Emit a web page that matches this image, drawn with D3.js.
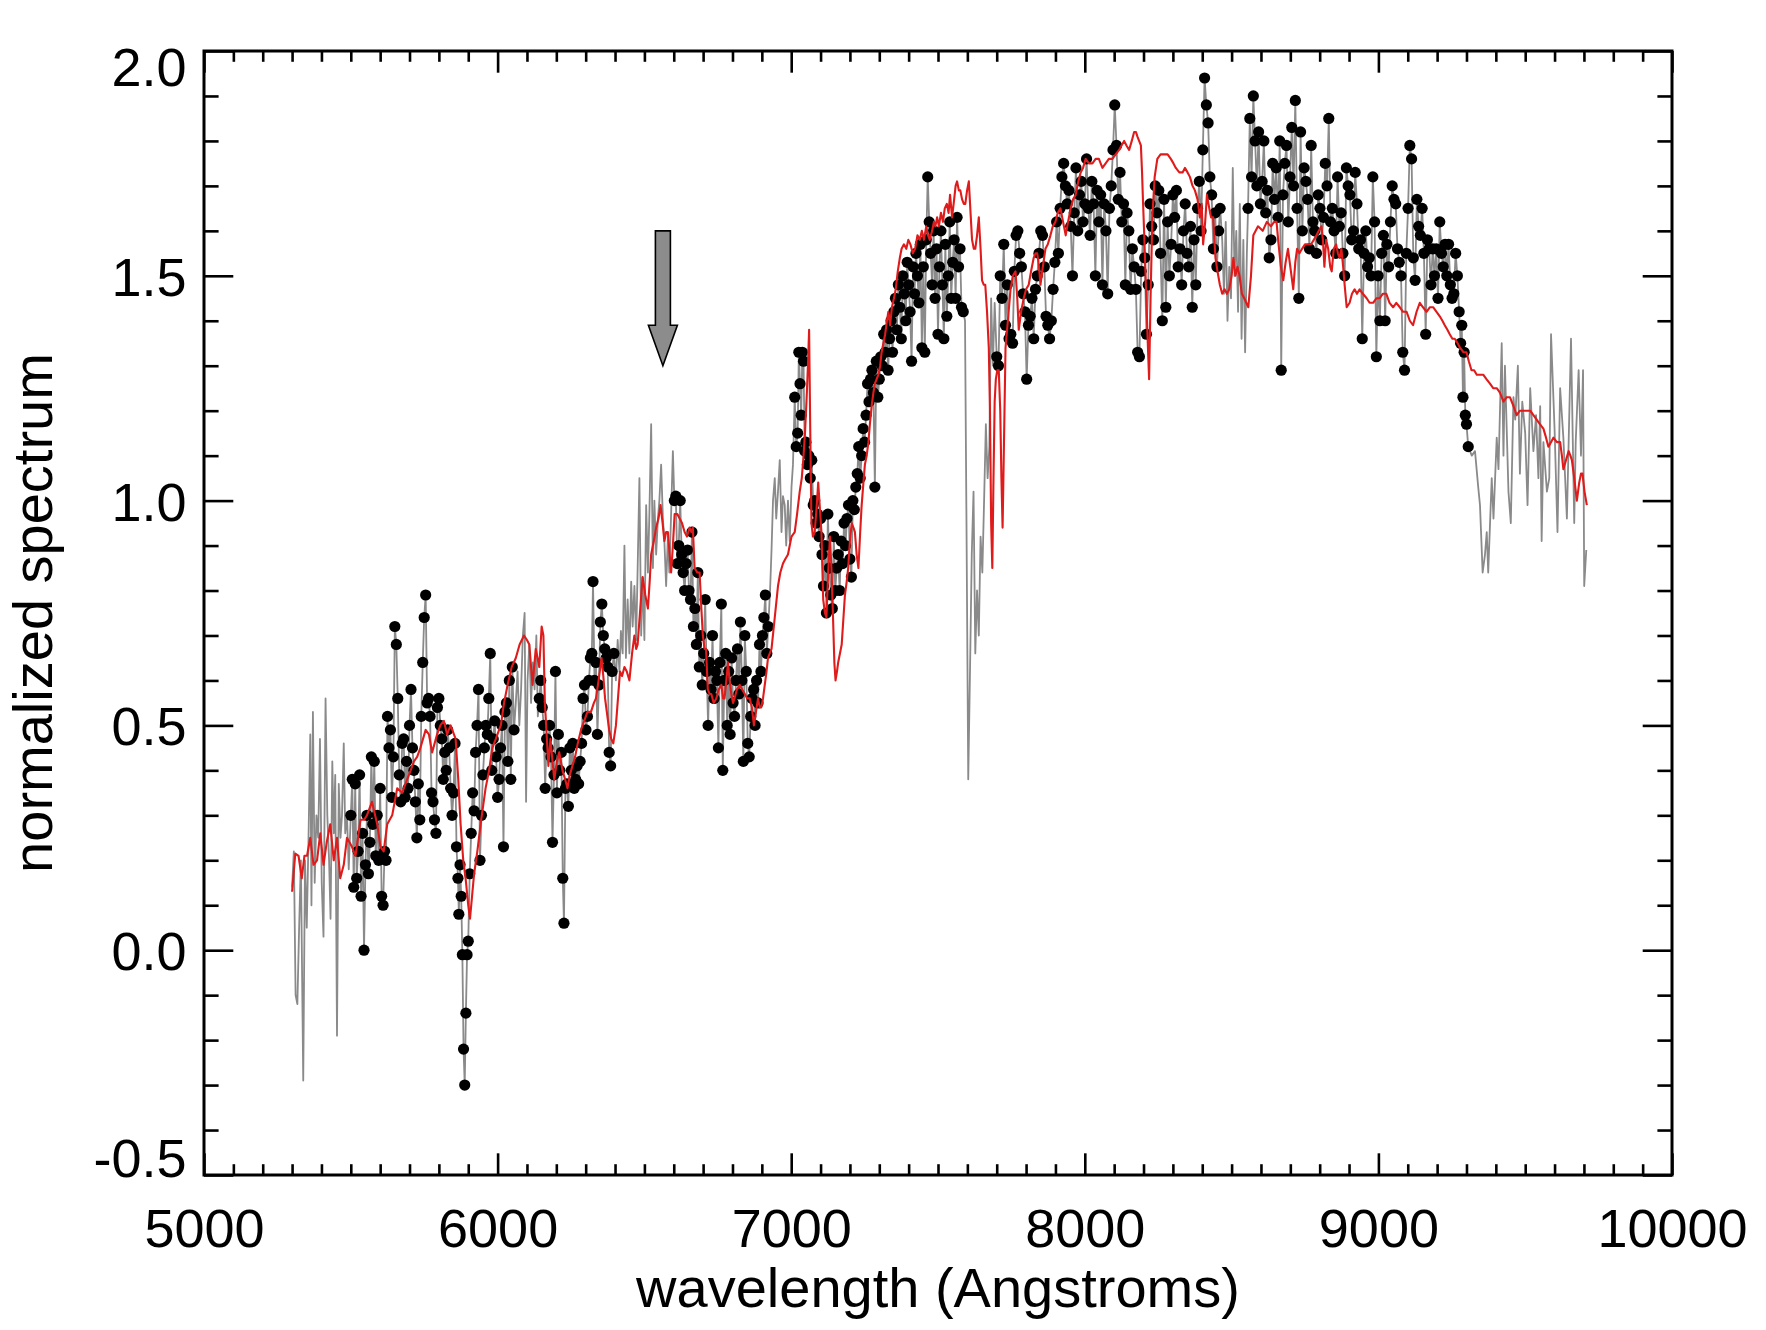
<!DOCTYPE html>
<html><head><meta charset="utf-8">
<script src="https://cdn.jsdelivr.net/npm/d3@7"></script>
<style>body{margin:0;background:#fff}</style>
</head><body>
<svg id="chart" width="1766" height="1330"></svg>
<script>
// observed spectrum: [wavelength (A), normalized flux]
const spectrum = [
[5300,0.14],[5306,0.22],[5312,-0.10],[5318,-0.12],[5324,0.05],[5330,0.20],[5338,-0.29],[5344,0.20],[5350,0.05],[5356,0.25],[5362,0.48],[5366,0.10],[5371,0.53],[5377,0.15],[5383,0.30],[5389,0.25],[5395,0.47],[5401,0.15],[5407,0.03],[5414,0.56],[5420,0.30],[5426,0.20],[5431,0.07],[5437,0.42],[5442,0.26],[5447,0.39],[5453,-0.19],[5459,0.37],[5465,0.25],[5470,0.30],[5476,0.46],[5481,0.26],[5487,0.30],[5493,0.18],
[5500,0.30],[5505,0.38],[5510,0.14],[5515,0.37],[5520,0.16],[5525,0.22],[5530,0.39],[5535,0.12],[5540,0.26],[5545,0.00],[5550,0.19],[5555,0.30],[5560,0.17],[5565,0.24],[5570,0.43],[5575,0.28],[5580,0.42],[5585,0.21],[5590,0.30],[5595,0.20],[5600,0.36],[5605,0.12],[5610,0.10],[5615,0.22],[5620,0.20],[5625,0.52],[5630,0.45],[5635,0.49],[5640,0.34],[5645,0.43],[5650,0.72],[5655,0.68],[5660,0.56],[5665,0.39],[5670,0.33],[5675,0.46],[5680,0.47],[5685,0.34],[5690,0.42],[5695,0.36],[5700,0.50],[5705,0.58],[5710,0.45],[5715,0.40],[5720,0.33],[5725,0.25],[5730,0.37],[5735,0.29],[5740,0.52],[5745,0.64],[5750,0.74],[5755,0.79],[5760,0.55],[5765,0.56],[5770,0.52],[5775,0.35],[5780,0.33],[5785,0.29],[5790,0.26],[5795,0.54],[5800,0.56],[5805,0.50],[5810,0.47],[5815,0.38],[5820,0.44],[5825,0.40],[5830,0.49],[5835,0.45],[5840,0.36],[5845,0.30],[5850,0.35],[5855,0.46],[5860,0.23],[5865,0.16],[5868,0.08],[5872,0.19],[5876,0.12],[5880,-0.01],[5884,-0.22],[5888,-0.30],[5892,-0.14],[5896,-0.01],[5900,0.02],[5905,0.17],[5910,0.26],[5915,0.35],[5920,0.31],[5925,0.44],[5930,0.50],[5935,0.58],[5940,0.20],[5945,0.30],[5950,0.39],[5955,0.45],[5960,0.50],[5965,0.48],[5970,0.56],[5975,0.66],[5980,0.40],[5985,0.47],[5990,0.51],[5995,0.43],[6000,0.34],[6005,0.38],[6010,0.45],[6015,0.50],[6020,0.23],[6025,0.53],[6030,0.55],[6035,0.42],[6040,0.60],[6045,0.38],[6050,0.63],[6056,0.49],
[6062,0.55],[6068,0.62],[6074,0.50],[6080,0.58],[6086,0.70],[6092,0.75],[6097,0.33],[6102,0.60],[6108,0.68],[6114,0.55],[6120,0.64],[6126,0.58],[6132,0.70],[6137,0.52],
[6142,0.56],[6147,0.60],[6152,0.54],[6157,0.50],[6162,0.36],[6167,0.47],[6172,0.45],[6177,0.50],[6182,0.43],[6187,0.24],[6192,0.39],[6197,0.62],[6202,0.35],[6207,0.48],[6212,0.40],[6217,0.44],[6222,0.16],[6226,0.06],[6231,0.36],[6236,0.37],[6241,0.32],[6246,0.45],[6251,0.40],[6256,0.46],[6261,0.36],[6266,0.38],[6271,0.41],[6276,0.37],[6281,0.42],[6286,0.46],[6291,0.56],[6296,0.59],[6301,0.49],[6306,0.52],[6311,0.60],[6316,0.65],[6321,0.66],[6325,0.82],[6330,0.60],[6335,0.64],[6340,0.48],[6345,0.59],[6350,0.73],[6355,0.77],[6360,0.70],[6365,0.67],[6370,0.65],[6375,0.63],[6380,0.44],[6385,0.41],[6390,0.62],[6396,0.66],
[6403,0.60],[6409,0.69],[6415,0.62],[6420,0.71],[6426,0.66],[6432,0.90],[6437,0.65],[6443,0.78],[6449,0.66],[6455,0.82],[6460,0.72],[6466,0.81],[6472,0.69],[6477,0.85],[6483,1.05],[6489,0.70],[6494,0.83],[6500,0.69],[6506,0.99],[6512,0.84],[6517,0.97],[6523,1.17],[6529,0.85],[6534,1.00],[6540,0.88],[6546,0.96],[6551,1.00],[6557,1.08],[6563,0.96],[6568,0.91],[6574,0.81],[6580,0.92],[6585,0.84],[6591,0.97],[6597,1.11],
[6602,1.00],[6607,1.01],[6612,0.86],[6617,0.90],[6622,1.00],[6627,0.88],[6632,0.84],[6637,0.80],[6642,0.86],[6647,0.89],[6652,0.80],[6657,0.78],[6662,0.93],[6667,0.72],[6672,0.76],[6677,0.68],[6682,0.84],[6687,0.63],[6692,0.70],[6697,0.59],[6702,0.66],[6707,0.78],[6712,0.62],[6717,0.50],[6722,0.64],[6727,0.58],[6732,0.70],[6737,0.56],[6742,0.62],[6747,0.60],[6752,0.45],[6757,0.64],[6762,0.77],[6767,0.40],[6772,0.60],[6777,0.66],[6782,0.50],[6787,0.62],[6792,0.48],[6797,0.65],[6802,0.55],[6807,0.52],[6812,0.60],[6817,0.67],[6822,0.57],[6827,0.73],[6832,0.60],[6837,0.42],[6842,0.70],[6847,0.62],[6852,0.46],[6857,0.43],[6862,0.52],[6867,0.56],[6872,0.58],[6877,0.50],[6882,0.60],[6887,0.55],[6892,0.68],[6897,0.62],[6902,0.70],[6907,0.74],[6912,0.79],[6917,0.66],[6922,0.72],
[6928,0.80],[6933,0.89],[6938,1.00],[6944,1.05],[6949,0.96],[6955,1.02],[6961,1.09],[6967,0.93],[6972,1.01],[6978,0.99],[6983,0.90],[6989,1.00],[6995,0.91],[7001,1.03],[7006,1.08],
[7012,1.23],[7017,1.12],[7022,1.15],[7026,1.33],[7030,1.26],[7034,1.19],[7038,1.33],[7042,1.31],[7046,1.11],[7050,1.13],[7055,1.08],[7060,1.10],[7065,1.05],[7070,1.09],[7075,0.99],[7080,1.00],[7085,0.95],[7090,0.97],[7095,0.92],[7100,0.96],[7105,0.88],[7110,0.81],[7115,0.90],[7120,0.75],[7125,0.97],[7130,0.85],[7135,0.79],[7140,0.76],[7145,0.92],[7150,0.80],[7155,0.85],[7160,0.88],[7165,0.80],[7170,0.91],[7175,0.86],[7180,0.95],[7185,0.90],[7190,0.96],[7195,0.99],[7200,0.87],[7205,0.83],[7210,1.00],[7215,0.98],[7220,1.03],[7225,1.06],[7230,1.12],[7235,1.05],[7240,1.10],[7245,1.16],[7250,1.13],[7255,1.19],[7260,1.26],[7265,1.22],[7270,1.27],[7275,1.29],[7280,1.24],[7285,1.03],[7290,1.31],[7295,1.23],[7300,1.27],[7305,1.32],[7310,1.30],[7315,1.37],[7320,1.33],[7325,1.38],[7330,1.29],[7335,1.36],[7340,1.40],[7345,1.33],[7350,1.42],[7355,1.45],[7360,1.38],[7365,1.48],[7370,1.43],[7375,1.36],[7380,1.50],[7385,1.46],[7390,1.40],[7395,1.53],[7400,1.48],[7405,1.42],[7410,1.31],[7415,1.52],[7420,1.46],[7425,1.55],[7430,1.50],[7435,1.44],[7440,1.57],[7445,1.34],[7450,1.52],[7455,1.33],[7460,1.58],[7465,1.72],[7470,1.62],[7475,1.55],[7480,1.48],[7485,1.60],[7490,1.45],[7495,1.56],[7500,1.37],[7505,1.52],[7510,1.60],[7515,1.48],[7520,1.36],[7525,1.57],[7530,1.41],[7535,1.50],[7540,1.62],[7545,1.45],[7550,1.53],[7555,1.58],[7560,1.45],[7565,1.63],[7570,1.52],[7575,1.56],[7580,1.43],[7586,1.42],
[7592,1.40],[7597,0.95],[7603,0.38],[7609,0.62],[7615,0.88],[7621,1.02],[7627,0.66],[7633,0.80],[7639,0.70],[7645,0.92],[7651,0.84],[7657,1.00],[7663,1.17],[7669,1.05],[7675,1.12],[7681,1.45],[7687,1.30],[7693,1.44],
[7700,1.32],[7706,1.30],[7712,1.50],[7718,1.45],[7724,1.57],[7730,1.39],[7736,1.48],[7742,1.36],[7748,1.37],[7754,1.35],[7760,1.51],[7766,1.59],[7772,1.60],[7778,1.55],[7784,1.52],[7790,1.46],[7796,1.42],[7802,1.27],[7808,1.39],[7814,1.41],[7820,1.45],[7826,1.36],[7832,1.47],[7838,1.50],[7844,1.55],[7850,1.60],[7856,1.59],[7862,1.52],[7868,1.41],[7874,1.39],[7880,1.36],[7886,1.40],[7892,1.47],[7898,1.53],[7904,1.62],[7910,1.55],[7916,1.65],[7922,1.72],[7928,1.75],[7934,1.70],[7940,1.66],[7946,1.69],[7952,1.61],[7958,1.50],[7964,1.64],[7970,1.74],[7976,1.60],[7982,1.68],[7988,1.71],[7994,1.62],[8000,1.66],[8006,1.76],[8012,1.65],[8018,1.59],[8024,1.71],[8030,1.66],[8036,1.50],[8042,1.69],[8048,1.62],[8054,1.68],[8060,1.48],[8066,1.66],[8072,1.60],[8078,1.46],[8084,1.65],[8090,1.70],[8096,1.78],[8102,1.88],[8108,1.79],[8114,1.67],[8120,1.73],[8126,1.62],[8132,1.66],[8138,1.48],[8144,1.64],[8150,1.60],[8156,1.47],[8162,1.56],[8168,1.52],[8174,1.47],[8180,1.33],[8186,1.32],[8192,1.51],[8198,1.58],[8204,1.54],[8210,1.37],[8216,1.48],[8222,1.66],[8228,1.61],[8234,1.58],[8240,1.70],[8246,1.64],[8252,1.69],[8258,1.55],[8264,1.40],[8270,1.67],[8276,1.43],[8282,1.62],[8288,1.50],[8294,1.57],[8300,1.68],[8306,1.63],[8312,1.69],[8318,1.52],[8324,1.56],[8330,1.48],[8336,1.60],[8342,1.66],[8348,1.55],[8354,1.52],[8360,1.61],[8366,1.43],[8372,1.58],[8378,1.48],[8384,1.65],[8390,1.71],[8396,1.60],[8402,1.78],[8408,1.94],[8414,1.88],[8420,1.84],[8426,1.72],[8432,1.68],[8438,1.56],[8444,1.64],[8450,1.52],[8456,1.60],[8461,1.65],
[8468,1.58],[8474,1.46],[8480,1.62],[8486,1.40],[8492,1.52],[8498,1.45],[8504,1.74],[8510,1.50],[8516,1.60],[8522,1.42],[8528,1.66],[8534,1.36],[8540,1.58],[8546,1.33],[8552,1.55],
[8556,1.65],[8562,1.85],[8568,1.72],[8574,1.90],[8580,1.80],[8586,1.70],[8592,1.82],[8598,1.66],[8604,1.71],[8610,1.80],[8616,1.64],[8622,1.69],[8628,1.54],[8634,1.58],[8640,1.75],[8646,1.67],[8652,1.74],[8658,1.63],[8664,1.80],[8669,1.29],[8675,1.68],[8681,1.75],[8687,1.79],[8693,1.62],[8699,1.72],[8705,1.83],[8711,1.70],[8717,1.89],[8723,1.65],[8729,1.45],[8735,1.82],[8741,1.60],[8747,1.74],[8753,1.71],[8759,1.67],[8765,1.56],[8771,1.79],[8777,1.62],[8783,1.60],[8789,1.55],[8795,1.68],[8801,1.65],[8807,1.58],[8813,1.63],[8819,1.75],[8825,1.70],[8831,1.85],[8837,1.62],[8843,1.65],[8849,1.60],[8855,1.55],[8861,1.72],[8867,1.61],[8873,1.64],[8879,1.55],[8885,1.50],[8891,1.74],[8897,1.70],[8903,1.68],[8909,1.58],[8915,1.60],[8921,1.73],[8927,1.66],[8933,1.56],[8939,1.58],[8945,1.36],[8951,1.55],[8957,1.60],[8963,1.52],[8969,1.54],[8975,1.50],[8981,1.72],[8987,1.62],[8993,1.32],[8999,1.50],[9005,1.40],[9011,1.55],[9017,1.59],[9023,1.40],[9029,1.57],[9035,1.52],[9041,1.62],[9047,1.70],[9053,1.67],[9059,1.66],[9065,1.56],[9071,1.53],[9077,1.50],[9083,1.33],[9089,1.29],[9095,1.55],[9101,1.65],[9107,1.79],[9113,1.76],[9119,1.54],[9125,1.49],[9131,1.67],[9137,1.61],[9143,1.59],[9149,1.65],[9155,1.55],[9161,1.37],[9167,1.58],[9173,1.56],[9179,1.48],[9185,1.56],[9191,1.50],[9197,1.56],[9203,1.45],[9209,1.62],[9215,1.55],[9221,1.52],[9227,1.57],[9233,1.50],[9239,1.57],[9245,1.48],[9251,1.45],[9257,1.46],[9263,1.55],[9269,1.50],[9275,1.42],[9280,1.35],[9284,1.39],[9288,1.23],[9292,1.33],[9296,1.19],[9300,1.17],[9306,1.12],
[9318,1.10],[9329,1.11],[9340,1.03],[9346,0.99],[9355,0.84],[9363,0.88],[9369,0.93],[9374,0.84],[9386,1.05],[9392,0.96],[9403,1.14],[9409,1.07],[9420,1.35],[9426,1.10],[9431,1.30],[9443,1.02],[9451,0.95],[9460,1.23],[9466,1.18],[9475,1.30],[9482,1.06],[9490,1.22],[9500,1.15],[9508,0.99],[9517,1.25],[9528,1.11],[9537,1.19],[9545,1.05],[9551,1.21],[9556,0.91],[9562,1.13],[9574,1.02],[9582,1.05],[9588,1.37],[9600,1.16],[9610,0.93],[9619,1.25],[9630,1.14],[9642,0.96],[9648,1.13],[9656,1.36],[9667,0.95],[9672,1.13],[9682,1.29],[9690,1.10],[9697,1.29],[9701,0.81],[9708,0.89]
];

// wavelength windows in which the spectrum points are drawn as filled dots
const dotRanges = [[5497,6058],[6140,6400],[6600,6925],[7010,7590],[7698,8463],[8553,9310]];

// model spectrum (red): [wavelength (A), normalized flux]
const model = [
[5300,0.13],[5311,0.215],[5322,0.21],[5333,0.16],[5342,0.21],[5351,0.21],[5362,0.25],[5373,0.19],[5385,0.20],[5396,0.26],[5407,0.19],[5418,0.24],[5430,0.28],[5442,0.20],[5453,0.25],[5464,0.16],[5476,0.19],[5487,0.25],[5504,0.23],[5516,0.21],[5533,0.29],[5545,0.29],[5555,0.30],[5572,0.33],[5590,0.28],[5601,0.23],[5612,0.22],[5624,0.28],[5641,0.30],[5658,0.36],[5675,0.35],[5692,0.38],[5704,0.40],[5715,0.42],[5726,0.43],[5737,0.45],[5755,0.49],[5766,0.48],[5777,0.44],[5794,0.48],[5805,0.50],[5817,0.51],[5828,0.48],[5840,0.50],[5857,0.47],[5866,0.38],[5874,0.28],[5883,0.20],[5891,0.16],[5900,0.10],[5906,0.07],[5913,0.12],[5920,0.17],[5931,0.22],[5942,0.28],[5959,0.36],[5971,0.40],[5982,0.45],[5994,0.47],[6005,0.49],[6011,0.50],[6022,0.55],[6034,0.59],[6048,0.63],[6062,0.65],[6075,0.68],[6090,0.70],[6100,0.69],[6108,0.68],[6119,0.59],[6130,0.67],[6142,0.63],[6150,0.72],[6156,0.70],[6161,0.55],[6173,0.41],[6180,0.47],[6187,0.42],[6193,0.38],[6202,0.42],[6210,0.44],[6221,0.40],[6230,0.38],[6238,0.36],[6246,0.39],[6255,0.41],[6264,0.43],[6273,0.46],[6284,0.49],[6295,0.51],[6306,0.53],[6318,0.53],[6328,0.55],[6335,0.56],[6344,0.60],[6354,0.65],[6360,0.61],[6366,0.56],[6372,0.53],[6380,0.49],[6387,0.47],[6394,0.46],[6403,0.50],[6410,0.56],[6417,0.62],[6424,0.61],[6432,0.63],[6440,0.62],[6449,0.60],[6458,0.66],[6466,0.70],[6472,0.67],[6477,0.68],[6486,0.76],[6494,0.83],[6503,0.79],[6512,0.76],[6518,0.82],[6523,0.88],[6532,0.91],[6540,0.94],[6548,0.96],[6555,0.99],[6562,0.95],[6568,0.91],[6574,0.93],[6580,0.93],[6586,0.88],[6591,0.84],[6597,0.90],[6603,0.97],[6612,0.97],[6620,0.96],[6628,0.95],[6637,0.93],[6645,0.92],[6654,0.94],[6660,0.93],[6665,0.94],[6671,0.85],[6680,0.84],[6688,0.84],[6694,0.76],[6699,0.70],[6705,0.67],[6710,0.67],[6716,0.58],[6722,0.57],[6728,0.57],[6736,0.55],[6745,0.56],[6753,0.58],[6762,0.59],[6768,0.56],[6773,0.56],[6779,0.60],[6785,0.64],[6790,0.60],[6796,0.57],[6802,0.55],[6807,0.56],[6815,0.58],[6825,0.59],[6833,0.58],[6842,0.57],[6850,0.56],[6859,0.56],[6866,0.54],[6873,0.50],[6880,0.53],[6887,0.56],[6893,0.54],[6898,0.54],[6904,0.56],[6910,0.59],[6916,0.62],[6921,0.65],[6933,0.67],[6944,0.74],[6955,0.81],[6963,0.84],[6972,0.86],[6980,0.87],[6989,0.88],[6995,0.90],[7001,0.92],[7012,0.93],[7020,0.97],[7029,1.02],[7036,1.05],[7041,1.09],[7047,1.15],[7052,1.22],[7057,1.30],[7061,1.38],[7065,1.15],[7069,0.95],[7074,0.92],[7080,0.93],[7086,0.98],[7092,1.04],[7098,0.98],[7103,0.93],[7109,0.78],[7115,0.75],[7120,0.74],[7126,0.84],[7132,0.92],[7137,0.85],[7142,0.75],[7147,0.64],[7151,0.60],[7156,0.62],[7160,0.64],[7166,0.66],[7172,0.68],[7178,0.74],[7183,0.79],[7189,0.82],[7194,0.85],[7200,0.91],[7206,0.95],[7212,0.94],[7217,0.93],[7223,0.88],[7229,0.85],[7235,0.93],[7240,0.99],[7246,1.04],[7251,1.08],[7257,1.10],[7263,1.13],[7268,1.17],[7274,1.21],[7280,1.24],[7285,1.26],[7291,1.27],[7297,1.28],[7303,1.30],[7308,1.33],[7314,1.35],[7320,1.37],[7326,1.40],[7331,1.42],[7337,1.39],[7343,1.43],[7350,1.45],[7356,1.47],[7363,1.51],[7370,1.54],[7376,1.56],[7384,1.57],[7392,1.56],[7399,1.58],[7406,1.57],[7414,1.55],[7422,1.56],[7430,1.59],[7438,1.58],[7445,1.60],[7452,1.58],[7460,1.61],[7466,1.59],[7472,1.58],[7480,1.60],[7486,1.62],[7491,1.61],[7497,1.63],[7503,1.61],[7510,1.64],[7517,1.62],[7523,1.65],[7530,1.66],[7536,1.64],[7541,1.68],[7548,1.63],[7555,1.67],[7560,1.70],[7565,1.71],[7571,1.69],[7576,1.69],[7582,1.67],[7588,1.66],[7593,1.66],[7599,1.69],[7605,1.71],[7610,1.65],[7616,1.58],[7622,1.56],[7627,1.56],[7633,1.59],[7639,1.63],[7645,1.56],[7650,1.49],[7656,1.48],[7661,1.48],[7667,1.42],[7673,1.34],[7677,1.20],[7681,0.95],[7685,0.85],[7689,1.05],[7693,1.22],[7697,1.27],[7702,1.29],[7707,1.29],[7712,1.20],[7716,1.05],[7720,0.94],[7724,1.10],[7730,1.34],[7738,1.40],[7747,1.47],[7755,1.50],[7764,1.51],[7770,1.45],[7775,1.38],[7783,1.42],[7792,1.45],[7800,1.47],[7809,1.48],[7817,1.51],[7826,1.54],[7832,1.55],[7838,1.55],[7844,1.52],[7849,1.48],[7857,1.52],[7866,1.56],[7874,1.57],[7883,1.59],[7891,1.61],[7900,1.62],[7908,1.64],[7917,1.65],[7926,1.62],[7935,1.59],[7943,1.62],[7952,1.65],[7960,1.67],[7969,1.68],[7978,1.71],[7986,1.73],[7994,1.74],[8003,1.76],[8014,1.75],[8026,1.75],[8037,1.76],[8048,1.76],[8060,1.74],[8071,1.75],[8082,1.76],[8094,1.76],[8105,1.77],[8117,1.78],[8125,1.79],[8134,1.80],[8142,1.79],[8151,1.78],[8160,1.80],[8168,1.82],[8174,1.82],[8179,1.81],[8185,1.80],[8191,1.79],[8195,1.73],[8198,1.67],[8203,1.58],[8208,1.48],[8214,1.36],[8219,1.27],[8224,1.45],[8230,1.63],[8238,1.72],[8247,1.76],[8258,1.77],[8270,1.77],[8282,1.77],[8293,1.76],[8302,1.75],[8310,1.74],[8322,1.73],[8333,1.73],[8341,1.74],[8350,1.73],[8358,1.72],[8367,1.70],[8375,1.69],[8384,1.67],[8392,1.63],[8398,1.66],[8403,1.57],[8410,1.62],[8416,1.68],[8424,1.65],[8430,1.63],[8437,1.63],[8445,1.54],[8452,1.51],[8460,1.48],[8468,1.46],[8476,1.47],[8484,1.46],[8492,1.47],[8500,1.50],[8506,1.54],[8513,1.50],[8520,1.52],[8527,1.50],[8535,1.46],[8543,1.45],[8550,1.44],[8557,1.43],[8566,1.50],[8574,1.59],[8590,1.61],[8606,1.60],[8620,1.62],[8634,1.61],[8645,1.62],[8653,1.62],[8660,1.57],[8668,1.52],[8676,1.49],[8684,1.53],[8692,1.56],[8700,1.52],[8710,1.47],[8717,1.53],[8723,1.56],[8731,1.55],[8740,1.56],[8750,1.57],[8760,1.57],[8771,1.57],[8780,1.58],[8789,1.59],[8797,1.60],[8806,1.61],[8811,1.58],[8816,1.52],[8822,1.58],[8829,1.56],[8836,1.52],[8841,1.51],[8848,1.56],[8856,1.57],[8862,1.55],[8868,1.54],[8874,1.56],[8880,1.52],[8885,1.48],[8892,1.43],[8902,1.44],[8910,1.46],[8919,1.47],[8927,1.46],[8936,1.47],[8947,1.46],[8960,1.45],[8970,1.44],[8982,1.44],[8993,1.45],[9004,1.45],[9015,1.46],[9027,1.46],[9038,1.44],[9050,1.43],[9061,1.44],[9073,1.43],[9084,1.42],[9096,1.42],[9107,1.40],[9118,1.39],[9130,1.42],[9141,1.44],[9152,1.43],[9164,1.42],[9175,1.43],[9187,1.43],[9198,1.42],[9209,1.41],[9218,1.40],[9226,1.39],[9235,1.38],[9243,1.37],[9252,1.36],[9260,1.36],[9270,1.35],[9278,1.34],[9290,1.33],[9300,1.33],[9308,1.31],[9317,1.29],[9326,1.29],[9335,1.28],[9346,1.28],[9357,1.28],[9368,1.27],[9380,1.26],[9391,1.25],[9403,1.25],[9414,1.24],[9426,1.22],[9437,1.23],[9448,1.23],[9460,1.21],[9471,1.19],[9482,1.20],[9494,1.20],[9505,1.20],[9517,1.20],[9528,1.19],[9539,1.18],[9550,1.17],[9562,1.16],[9571,1.14],[9579,1.12],[9588,1.13],[9596,1.14],[9608,1.13],[9619,1.13],[9625,1.10],[9630,1.07],[9639,1.09],[9648,1.11],[9654,1.10],[9659,1.09],[9667,1.05],[9676,1.00],[9684,1.04],[9690,1.06],[9695,1.06],[9702,1.02],[9710,0.99]
];

const xTicks = [5000,6000,7000,8000,9000,10000];
const xTickLabels = ["5000","6000","7000","8000","9000","10000"];
const yTicks = [-0.5,0,0.5,1,1.5,2];
const yTickLabels = ["-0.5","0.0","0.5","1.0","1.5","2.0"];
const xTitle = "wavelength (Angstroms)";
const yTitle = "normalized spectrum";
const arrowMark = {wave: 6563, top: 1.60, base: 1.39, tip: 1.30}; // H-alpha marker

// ---------------------------------------------------------------
const L = 204, R = 1672, T = 51, B = 1175;
const font = "'Liberation Sans', Arial, Helvetica, sans-serif";
const x = d3.scaleLinear().domain([5000, 10000]).range([L, R]);
const y = d3.scaleLinear().domain([-0.5, 2.0]).range([B, T]);
const svg = d3.select("#chart");

svg.append("defs").append("clipPath").attr("id", "clip")
  .append("rect").attr("x", L).attr("y", T).attr("width", R - L).attr("height", B - T);

const line = d3.line().x(d => x(d[0])).y(d => y(d[1]));
const plot = svg.append("g").attr("clip-path", "url(#clip)");

plot.append("path").datum(spectrum).attr("d", line)
  .attr("fill", "none").attr("stroke", "#8a8a8a").attr("stroke-width", 1.8)
  .attr("stroke-linejoin", "round");

const inDots = d => dotRanges.some(r => d[0] >= r[0] && d[0] <= r[1]);
plot.append("g").selectAll("circle").data(spectrum.filter(inDots)).join("circle")
  .attr("cx", d => x(d[0])).attr("cy", d => y(d[1])).attr("r", 5.6).attr("fill", "#000");

plot.append("path").datum(model).attr("d", line)
  .attr("fill", "none").attr("stroke", "#e01b1b").attr("stroke-width", 2.1)
  .attr("stroke-linejoin", "round");

// arrow marker
const ax = x(arrowMark.wave), yt = y(arrowMark.top), yb = y(arrowMark.base), yp = y(arrowMark.tip);
const sw = 7.5, hw = 14.5;
svg.append("polygon")
  .attr("points", [[ax - sw, yt], [ax + sw, yt], [ax + sw, yb], [ax + hw, yb], [ax, yp], [ax - hw, yb], [ax - sw, yb]].map(p => p.join(",")).join(" "))
  .attr("fill", "#8c8c8c").attr("stroke", "#000").attr("stroke-width", 1.6).attr("stroke-linejoin", "miter");

// axes
const xMinor = d3.range(5000, 10001, 100).filter(v => v % 1000 !== 0);
const yMinor = d3.range(-5, 21, 1).map(v => v / 10).filter(v => Math.abs(v * 2 - Math.round(v * 2)) > 1e-6);
const xMajLen = 21.7, xMinLen = 10.8, yMajLen = 29.3, yMinLen = 14.6;

function styleAxis(g) {
  g.select(".domain").remove();
  g.selectAll(".tick line").attr("stroke", "#000").attr("stroke-width", 2.6);
  g.selectAll("text").attr("fill", "#000");
  g.attr("font-family", font).attr("font-size", 54);
}

svg.append("g").attr("transform", `translate(0,${B})`)
  .call(d3.axisBottom(x).tickValues(xTicks).tickSize(-xMajLen).tickPadding(34).tickFormat((d, i) => xTickLabels[i]))
  .call(styleAxis);
svg.append("g").attr("transform", `translate(0,${B})`)
  .call(d3.axisBottom(x).tickValues(xMinor).tickSize(-xMinLen).tickFormat(""))
  .call(styleAxis);
svg.append("g").attr("transform", `translate(0,${T})`)
  .call(d3.axisTop(x).tickValues(xTicks).tickSize(-xMajLen).tickFormat(""))
  .call(styleAxis);
svg.append("g").attr("transform", `translate(0,${T})`)
  .call(d3.axisTop(x).tickValues(xMinor).tickSize(-xMinLen).tickFormat(""))
  .call(styleAxis);

const yAxisG = svg.append("g").attr("transform", `translate(${L},0)`)
  .call(d3.axisLeft(y).tickValues(yTicks).tickSize(-yMajLen).tickPadding(17.5).tickFormat((d, i) => yTickLabels[i]))
  .call(styleAxis);
yAxisG.selectAll("text").attr("dy", d => d === 2 ? "0.63em" : (d === -0.5 ? "0.02em" : "0.36em"));
svg.append("g").attr("transform", `translate(${L},0)`)
  .call(d3.axisLeft(y).tickValues(yMinor).tickSize(-yMinLen).tickFormat(""))
  .call(styleAxis);
svg.append("g").attr("transform", `translate(${R},0)`)
  .call(d3.axisRight(y).tickValues(yTicks).tickSize(-yMajLen).tickFormat(""))
  .call(styleAxis);
svg.append("g").attr("transform", `translate(${R},0)`)
  .call(d3.axisRight(y).tickValues(yMinor).tickSize(-yMinLen).tickFormat(""))
  .call(styleAxis);

svg.append("rect").attr("x", L).attr("y", T).attr("width", R - L).attr("height", B - T)
  .attr("fill", "none").attr("stroke", "#000").attr("stroke-width", 3);

svg.append("text").attr("x", (L + R) / 2).attr("y", 1307).attr("text-anchor", "middle")
  .attr("font-family", font).attr("font-size", 56).attr("fill", "#000").text(xTitle);
svg.append("text").attr("transform", `translate(52,${(T + B) / 2}) rotate(-90)`).attr("text-anchor", "middle")
  .attr("font-family", font).attr("font-size", 56).attr("fill", "#000").text(yTitle);
</script>
</body></html>
